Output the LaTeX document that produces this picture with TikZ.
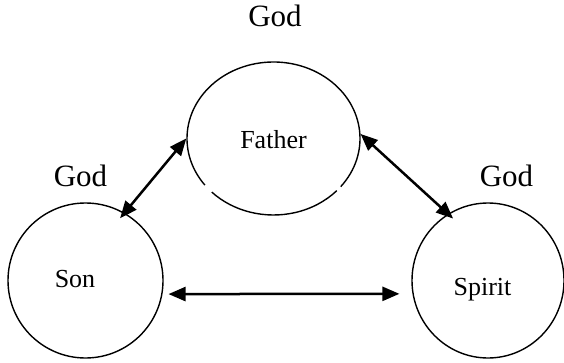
\documentclass[tikz,border=0pt]{standalone}
\usepackage{fontspec}
\setmainfont{Liberation Serif}
\usetikzlibrary{shapes.geometric,arrows.meta}
\begin{document}
\begin{tikzpicture}[x=1pt,y=1pt,
  persona/.style={ellipse, inner sep=0pt, line width=1.4pt},
  godlabel/.style={anchor=base, inner sep=0pt, font=\fontsize{31}{36}\selectfont},
  namelabel/.style={anchor=base, inner sep=0pt, font=\fontsize{26}{30}\selectfont},
  biarrow/.style={line width=2.5pt, {Triangle[length=17pt,width=14pt]}-{Triangle[length=17pt,width=14pt]}},
  rim/.style={line width=1.4pt}]
\useasboundingbox (0,0) rectangle (564,-363);
% circles
\node[persona, minimum width=173pt, minimum height=153pt] (father) at (273.5,-138.5) {};
\node[persona, draw, minimum width=155pt, minimum height=155pt] (son) at (85.5,-280.5) {};
\node[persona, draw, minimum width=152pt, minimum height=155pt] (spirit) at (488,-280.5) {};
% father outline with two small gaps
\draw[rim] (father.center) ++(224.5:86.5 and 76.5) arc[start angle=224.5, end angle=317, x radius=86.5, y radius=76.5];
\draw[rim] (father.center) ++(321:86.5 and 76.5) arc[start angle=321, end angle=577.5, x radius=86.5, y radius=76.5];
% labels
\node[namelabel] (fathertext) at (273.5,-149) {Father};
\node[namelabel] (sontext) at (75,-287) {Son};
\node[namelabel] (spirittext) at (482.5,-295) {Spirit};
\node[godlabel] (godtop) at (275,-27) {God};
\node[godlabel] (godleft) at (80.5,-187) {God};
\node[godlabel] (godright) at (506.5,-187) {God};
% arrows
\draw[biarrow, shorten <=-7pt] (son.60) -- (father.180);
\draw[biarrow, shorten >=-7pt] (father.3) -- (spirit.121);
\draw[biarrow, shorten <=6pt, shorten >=13pt] (son.-10) -- (spirit.190);
\end{tikzpicture}
\end{document}
